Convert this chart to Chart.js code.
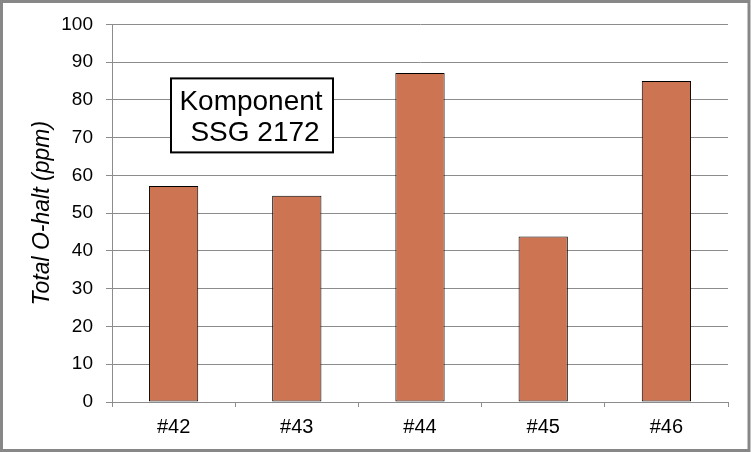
<!DOCTYPE html>
<html>
<head>
<meta charset="utf-8">
<script src="https://cdn.jsdelivr.net/npm/chart.js@4"></script>
<style>
  html, body { margin: 0; padding: 0; background: #fff; }
  #wrap { width: 751px; height: 452px; position: relative; }
</style>
</head>
<body>
<div id="wrap"><canvas id="chart" width="751" height="452"></canvas></div>
<script>
// data
const categories = ['#42', '#43', '#44', '#45', '#46'];
const oHalt = [57.2, 54.6, 87.1, 43.8, 85.0];
const yTicks = [0, 10, 20, 30, 40, 50, 60, 70, 80, 90, 100];
const boxLines = ['Komponent', 'SSG 2172'];

const FONT = 'Arial, "Liberation Sans", sans-serif';
const GRID = '#8c8c8c';

// gray frame around the whole picture
const framePlugin = {
  id: 'frame',
  afterDraw(chart) {
    const ctx = chart.ctx;
    ctx.save();
    ctx.strokeStyle = '#878787';
    ctx.lineWidth = 3;
    ctx.strokeRect(1.5, 1.5, chart.width - 3.5, chart.height - 3);
    ctx.restore();
  }
};

// text box "Komponent / SSG 2172"
const boxPlugin = {
  id: 'labelBox',
  afterDatasetsDraw(chart) {
    const ctx = chart.ctx;
    const a = chart.chartArea;
    const x = a.left + 59, y = a.top + 54, w = 162, h = 74;
    ctx.save();
    ctx.fillStyle = '#fff';
    ctx.fillRect(x, y, w, h);
    ctx.strokeStyle = '#000';
    ctx.lineWidth = 2;
    ctx.strokeRect(x, y, w, h);
    ctx.fillStyle = '#000';
    ctx.font = '28px ' + FONT;
    ctx.textAlign = 'center';
    ctx.textBaseline = 'middle';
    ctx.fillText(boxLines[0], x + 80, y + 24);
    ctx.fillText(boxLines[1], x + 84, y + 55);
    ctx.restore();
  }
};

new Chart(document.getElementById('chart'), {
  type: 'bar',
  data: {
    labels: categories,
    datasets: [{
      data: oHalt,
      backgroundColor: '#cd7553',
      borderColor: '#000',
      borderWidth: 1,
      borderSkipped: false,
      barPercentage: 0.4,
      categoryPercentage: 1
    }]
  },
  options: {
    responsive: false,
    animation: false,
    layout: { padding: { left: 24, top: 23, right: 23, bottom: 10 } },
    plugins: { legend: { display: false }, tooltip: { enabled: false } },
    scales: {
      x: {
        grid: { drawOnChartArea: false, color: GRID, tickLength: 5, offset: true },
        border: { color: GRID },
        ticks: { color: '#000', font: { family: FONT, size: 20 }, padding: 8, maxRotation: 0 },
        afterFit(s) { s.height = 40; }
      },
      y: {
        min: 0,
        max: 100,
        afterBuildTicks(s) { s.ticks = yTicks.map((v) => ({ value: v })); },
        grid: { color: GRID, tickLength: 6 },
        border: { color: GRID },
        ticks: { color: '#000', font: { family: FONT, size: 19 }, padding: 13 },
        title: {
          display: true,
          text: 'Total O-halt (ppm)',
          color: '#000',
          font: { family: FONT, size: 23, style: 'italic' },
          padding: { top: 5, bottom: 0 }
        },
        afterFit(s) { s.width = 88; }
      }
    }
  },
  plugins: [framePlugin, boxPlugin]
});
</script>
</body>
</html>
